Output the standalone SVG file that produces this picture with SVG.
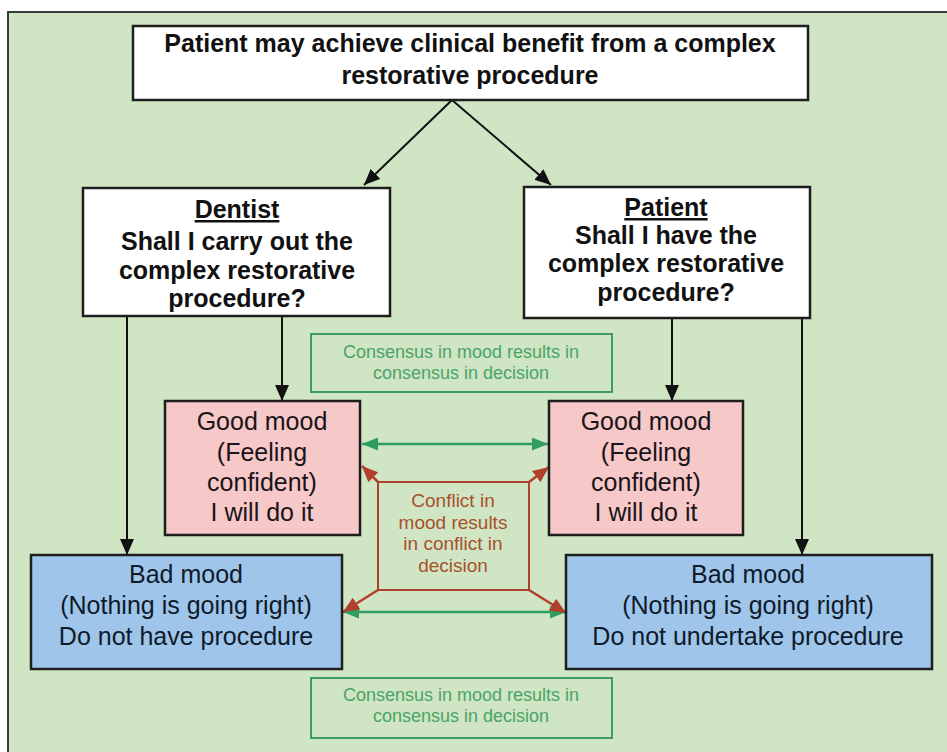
<svg xmlns="http://www.w3.org/2000/svg" width="947" height="752" viewBox="0 0 947 752">
<defs>
<style>
.bg{fill:#cfe5c3}
.frame{fill:none;stroke:#3a3a3a;stroke-width:2}
.wbox{fill:#ffffff;stroke:#1e1e1e;stroke-width:2.5}
.pink{fill:#f7c8c8;stroke:#1e1e1e;stroke-width:2.5}
.blue{fill:#9fc6ea;stroke:#1e1e1e;stroke-width:2.5}
.gbox{fill:none;stroke:#3f9c60;stroke-width:2}
.rbox{fill:none;stroke:#b0402c;stroke-width:2}
.bt{font-family:"Liberation Sans",Arial,sans-serif;font-weight:bold;font-size:25px;fill:#111;text-anchor:middle}
.mt{font-family:"Liberation Sans",Arial,sans-serif;font-size:25px;fill:#1a1418;text-anchor:middle}
.mtb{font-family:"Liberation Sans",Arial,sans-serif;font-size:25px;fill:#0f1a2a;text-anchor:middle}
.gt{font-family:"Liberation Sans",Arial,sans-serif;font-size:18px;fill:#4aa468;text-anchor:middle}
.rt{font-family:"Liberation Sans",Arial,sans-serif;font-size:19px;fill:#a8502e;text-anchor:middle}
.bl{stroke:#111;stroke-width:2;fill:none}
.gl{stroke:#2f9c62;stroke-width:2.5;fill:none}
.rl{stroke:#b0402c;stroke-width:2.5;fill:none}
</style>
<marker id="abk" viewBox="0 0 16 14" refX="16" refY="7" markerWidth="16" markerHeight="14" markerUnits="userSpaceOnUse" orient="auto">
<path d="M0,0 L16,7 L0,14 Z" fill="#111"/>
</marker>
<marker id="agr" viewBox="0 0 16 13" refX="16" refY="6.5" markerWidth="16" markerHeight="13" markerUnits="userSpaceOnUse" orient="auto-start-reverse">
<path d="M0,0 L16,6.5 L0,13 Z" fill="#2f9c62"/>
</marker>
<marker id="ard" viewBox="0 0 16 14" refX="16" refY="7" markerWidth="16" markerHeight="14" markerUnits="userSpaceOnUse" orient="auto">
<path d="M0,0 L16,7 L0,14 Z" fill="#b0402c"/>
</marker>
</defs>

<rect class="bg" x="8" y="12" width="945" height="745"/>
<path class="frame" d="M8,760 L8,12 L950,12"/>

<g id="connectors">
<line class="bl" x1="452" y1="100" x2="364" y2="185" marker-end="url(#abk)"/>
<line class="bl" x1="452" y1="100" x2="551" y2="185" marker-end="url(#abk)"/>
<line class="bl" x1="127" y1="316" x2="127" y2="555" marker-end="url(#abk)"/>
<line class="bl" x1="282" y1="316" x2="282" y2="401" marker-end="url(#abk)"/>
<line class="bl" x1="672" y1="318" x2="672" y2="401" marker-end="url(#abk)"/>
<line class="bl" x1="802" y1="318" x2="802" y2="555" marker-end="url(#abk)"/>
<line class="gl" x1="362" y1="444" x2="548" y2="444" marker-start="url(#agr)" marker-end="url(#agr)"/>
<line class="gl" x1="343" y1="612" x2="566" y2="612" marker-start="url(#agr)" marker-end="url(#agr)"/>
<line class="rl" x1="378" y1="482" x2="362" y2="466" marker-end="url(#ard)"/>
<line class="rl" x1="529" y1="482" x2="549" y2="467" marker-end="url(#ard)"/>
<line class="rl" x1="378" y1="590" x2="343" y2="612" marker-end="url(#ard)"/>
<line class="rl" x1="529" y1="590" x2="566" y2="613" marker-end="url(#ard)"/>
</g>

<g id="top">
<rect class="wbox" x="133" y="26" width="675" height="74"/>
<text class="bt" x="470" y="52">Patient may achieve clinical benefit from a complex</text>
<text class="bt" x="470" y="84">restorative procedure</text>
</g>

<g id="dentist">
<rect class="wbox" x="83" y="188" width="307" height="128"/>
<text class="bt" x="237" y="218" text-decoration="underline">Dentist</text>
<text class="bt" x="237" y="250">Shall I carry out the</text>
<text class="bt" x="237" y="279">complex restorative</text>
<text class="bt" x="237" y="307">procedure?</text>
</g>

<g id="patient">
<rect class="wbox" x="524" y="187" width="286" height="131"/>
<text class="bt" x="666" y="216" text-decoration="underline">Patient</text>
<text class="bt" x="666" y="244">Shall I have the</text>
<text class="bt" x="666" y="272">complex restorative</text>
<text class="bt" x="666" y="301">procedure?</text>
</g>

<g id="consensus-top">
<rect class="gbox" x="311" y="334" width="301" height="58"/>
<text class="gt" x="461" y="358">Consensus in mood results in</text>
<text class="gt" x="461" y="379">consensus in decision</text>
</g>

<g id="good-dentist">
<rect class="pink" x="165" y="401" width="195" height="134"/>
<text class="mt" x="262" y="430">Good mood</text>
<text class="mt" x="262" y="461">(Feeling</text>
<text class="mt" x="262" y="491">confident)</text>
<text class="mt" x="262" y="521">I will do it</text>
</g>

<g id="good-patient">
<rect class="pink" x="549" y="401" width="194" height="134"/>
<text class="mt" x="646" y="430">Good mood</text>
<text class="mt" x="646" y="461">(Feeling</text>
<text class="mt" x="646" y="491">confident)</text>
<text class="mt" x="646" y="521">I will do it</text>
</g>

<g id="conflict">
<rect class="rbox" x="378" y="482" width="151" height="108"/>
<text class="rt" x="453" y="507">Conflict in</text>
<text class="rt" x="453" y="529">mood results</text>
<text class="rt" x="453" y="550">in conflict in</text>
<text class="rt" x="453" y="572">decision</text>
</g>

<g id="bad-dentist">
<rect class="blue" x="31" y="555" width="311" height="114"/>
<text class="mtb" x="186" y="583">Bad mood</text>
<text class="mtb" x="186" y="614">(Nothing is going right)</text>
<text class="mtb" x="186" y="645">Do not have procedure</text>
</g>

<g id="bad-patient">
<rect class="blue" x="566" y="555" width="366" height="114"/>
<text class="mtb" x="748" y="583">Bad mood</text>
<text class="mtb" x="748" y="614">(Nothing is going right)</text>
<text class="mtb" x="748" y="645">Do not undertake procedure</text>
</g>

<g id="consensus-bottom">
<rect class="gbox" x="311" y="678" width="301" height="60"/>
<text class="gt" x="461" y="701">Consensus in mood results in</text>
<text class="gt" x="461" y="722">consensus in decision</text>
</g>
</svg>
